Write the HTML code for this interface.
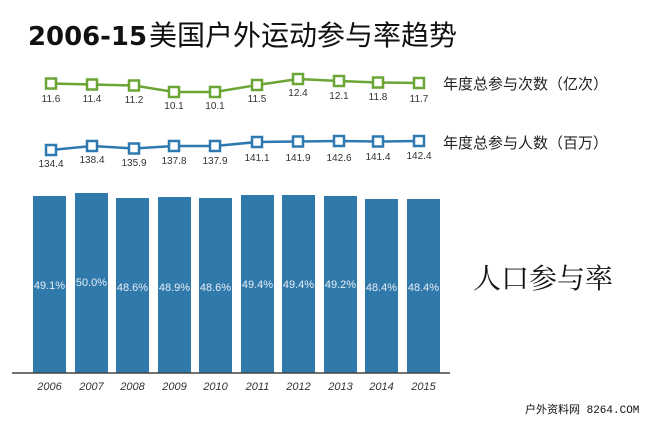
<!DOCTYPE html>
<html><head><meta charset="utf-8"><style>
html,body{margin:0;padding:0;background:#fff;}
svg{display:block;}
</style></head><body>
<svg width="650" height="421" viewBox="0 0 650 421" xmlns="http://www.w3.org/2000/svg">
<rect width="650" height="421" fill="#fff"/>
<text x="28" y="45" font-family="'DejaVu Sans','Noto Sans CJK SC',sans-serif" font-size="26" font-weight="bold" fill="#111" textLength="119" lengthAdjust="spacingAndGlyphs">2006-15</text>
<text x="149" y="45" font-family="'Liberation Sans','Noto Sans CJK SC',sans-serif" font-size="28" fill="#111">美国户外运动参与率趋势</text>

<g font-family="'Liberation Sans','Noto Sans CJK SC',sans-serif" font-size="15" fill="#222">
<text x="443" y="89">年度总参与次数（亿次）</text>
<text x="443" y="148">年度总参与人数（百万）</text>
</g>

<polyline fill="none" stroke="#6aa535" stroke-width="2.5" points="51,83.5 92,84.5 134,85.5 174,92 215,92 257,85 298,79 339,81 378,82.5 419,83"/>
<g fill="#fff" stroke="#6aa535" stroke-width="2.5">
<rect x="46" y="78.5" width="10" height="10"/><rect x="87" y="79.5" width="10" height="10"/><rect x="129" y="80.5" width="10" height="10"/><rect x="169" y="87" width="10" height="10"/><rect x="210" y="87" width="10" height="10"/><rect x="252" y="80" width="10" height="10"/><rect x="293" y="74" width="10" height="10"/><rect x="334" y="76" width="10" height="10"/><rect x="373" y="77.5" width="10" height="10"/><rect x="414" y="78" width="10" height="10"/>
</g>
<g font-family="'Liberation Sans',sans-serif" font-size="10" fill="#333" text-anchor="middle">
<text x="51" y="102">11.6</text><text x="92" y="102">11.4</text><text x="134" y="103">11.2</text><text x="174" y="109">10.1</text><text x="215" y="109">10.1</text><text x="257" y="102">11.5</text><text x="298" y="96">12.4</text><text x="339" y="99">12.1</text><text x="378" y="100">11.8</text><text x="419" y="102">11.7</text>
</g>

<polyline fill="none" stroke="#2e79b0" stroke-width="2.5" points="51,150 92,146 134,148.5 174,146 215,146 257,142 298,141.5 339,141 378,141.5 419,141"/>
<g fill="#fff" stroke="#2e79b0" stroke-width="2.5">
<rect x="46" y="145" width="10" height="10"/><rect x="87" y="141" width="10" height="10"/><rect x="129" y="143.5" width="10" height="10"/><rect x="169" y="141" width="10" height="10"/><rect x="210" y="141" width="10" height="10"/><rect x="252" y="137" width="10" height="10"/><rect x="293" y="136.5" width="10" height="10"/><rect x="334" y="136" width="10" height="10"/><rect x="373" y="136.5" width="10" height="10"/><rect x="414" y="136" width="10" height="10"/>
</g>
<g font-family="'Liberation Sans',sans-serif" font-size="10" fill="#333" text-anchor="middle">
<text x="51" y="167">134.4</text><text x="92" y="163">138.4</text><text x="134" y="166">135.9</text><text x="174" y="164">137.8</text><text x="215" y="164">137.9</text><text x="257" y="161">141.1</text><text x="298" y="161">141.9</text><text x="339" y="161">142.6</text><text x="378" y="160">141.4</text><text x="419" y="159">142.4</text>
</g>

<g fill="#2f79ab">
<rect x="33" y="196" width="33" height="177"/><rect x="75" y="193" width="33" height="180"/><rect x="116" y="198" width="33" height="175"/><rect x="158" y="197" width="33" height="176"/><rect x="199" y="198" width="33" height="175"/><rect x="241" y="195" width="33" height="178"/><rect x="282" y="195" width="33" height="178"/><rect x="324" y="196" width="33" height="177"/><rect x="365" y="199" width="33" height="174"/><rect x="407" y="199" width="33" height="174"/>
</g>
<g font-family="'Liberation Sans',sans-serif" font-size="11" fill="#e8eef5" text-anchor="middle">
<text x="49.5" y="289">49.1%</text><text x="91.5" y="286">50.0%</text><text x="132.5" y="291">48.6%</text><text x="174.5" y="291">48.9%</text><text x="215.5" y="291">48.6%</text><text x="257.5" y="288">49.4%</text><text x="298.5" y="288">49.4%</text><text x="340.5" y="288">49.2%</text><text x="381.5" y="291">48.4%</text><text x="423.5" y="291">48.4%</text>
</g>
<line x1="12" y1="373" x2="450" y2="373" stroke="#444" stroke-width="1.5"/>
<g font-family="'Liberation Sans',sans-serif" font-size="11" font-style="italic" fill="#333" text-anchor="middle">
<text x="49.5" y="390">2006</text><text x="91.5" y="390">2007</text><text x="132.5" y="390">2008</text><text x="174.5" y="390">2009</text><text x="215.5" y="390">2010</text><text x="257.5" y="390">2011</text><text x="298.5" y="390">2012</text><text x="340.5" y="390">2013</text><text x="381.5" y="390">2014</text><text x="423.5" y="390">2015</text>
</g>

<text x="473" y="288" font-family="'Liberation Serif','Noto Serif CJK SC',serif" font-size="28" fill="#111">人口参与率</text>
<text x="525" y="413" font-family="'Liberation Mono','Noto Sans CJK SC',monospace" font-size="11" fill="#111">户外资料网 8264.COM</text>
</svg>
</body></html>
